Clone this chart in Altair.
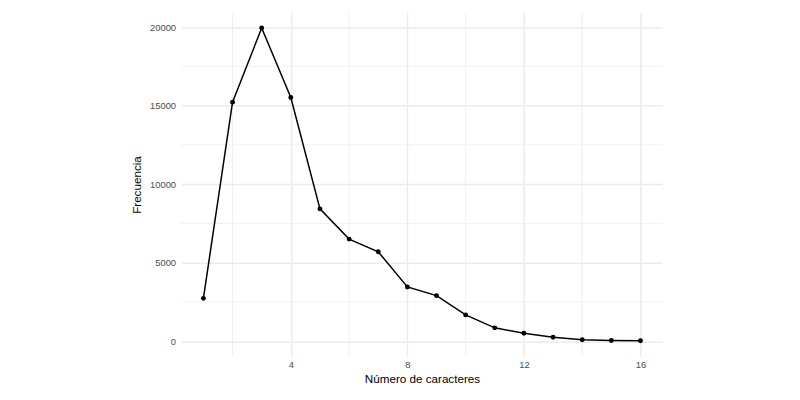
import altair as alt
import pandas as pd

caracteres = list(range(1, 17))
frecuencia = [2730, 15220, 19940, 15520, 8425, 6500, 5695, 3455,
              2900, 1675, 850, 510, 255, 90, 45, 25]

x_major = [4, 8, 12, 16]
x_minor = [2, 6, 10, 14]
y_major = [0, 5000, 10000, 15000, 20000]
y_minor = [2500, 7500, 12500, 17500]

df = pd.DataFrame({"x": caracteres, "y": frecuencia})
xmin_df = pd.DataFrame({"x": x_minor})
ymin_df = pd.DataFrame({"y": y_minor})

xs = alt.Scale(domain=[0.25, 16.75], nice=False, zero=False)
ys = alt.Scale(domain=[-980, 20930], nice=False, zero=False)

grid_col = "#EBEBEB"

x_enc = alt.X("x:Q", scale=xs, title="Número de caracteres",
              axis=alt.Axis(values=x_major, format="d"))
y_enc = alt.Y("y:Q", scale=ys, title="Frecuencia",
              axis=alt.Axis(values=y_major, format="d"))

minor_x = alt.Chart(xmin_df).mark_rule(color=grid_col, strokeWidth=0.75).encode(
    x=x_enc
)
minor_y = alt.Chart(ymin_df).mark_rule(color=grid_col, strokeWidth=0.75).encode(
    y=y_enc
)

base = alt.Chart(df).encode(x=x_enc, y=y_enc)

line = base.mark_line(color="black", strokeWidth=1.5)
pts = base.mark_circle(color="black", size=24, opacity=1)

chart = alt.layer(minor_x, minor_y, line, pts).properties(
    width=482, height=345,
    autosize=alt.AutoSizeParams(type="none"),
    padding={"left": 174, "top": 4, "right": 130, "bottom": 30},
).configure_view(stroke=None).configure_axis(
    domain=False, ticks=False,
    gridColor=grid_col, gridWidth=1.5,
    labelColor="#4D4D4D", labelFont="Liberation Sans", labelFontSize=9.4,
    labelPadding=4,
    titleFont="Liberation Sans", titleFontSize=11.7, titleFontWeight="normal",
    titleColor="black", titlePadding=5,
).configure_axisY(titlePadding=7, labelPadding=6)

chart.save("out.html", embed_options={"renderer": "svg", "actions": False})
